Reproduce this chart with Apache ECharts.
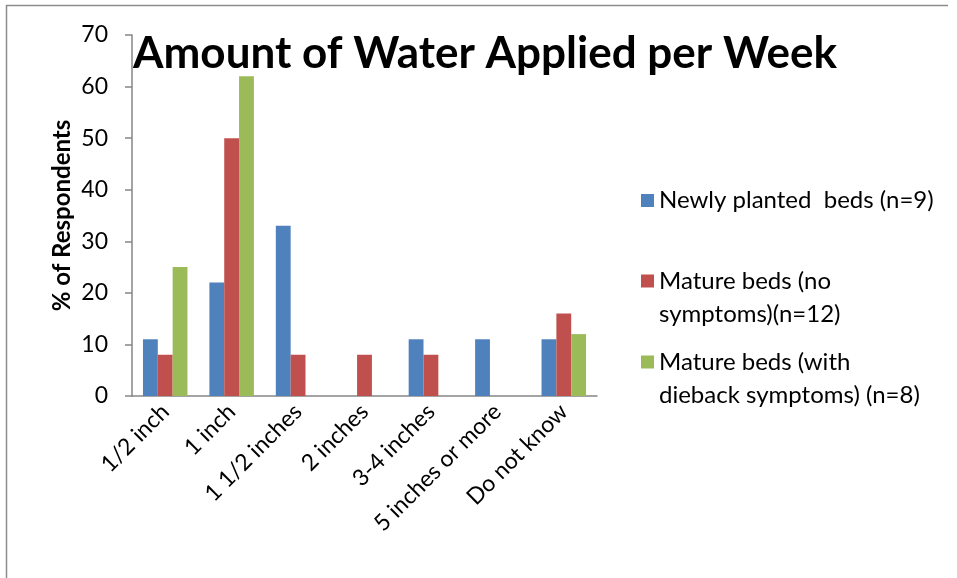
<!DOCTYPE html>
<html>
<head>
<meta charset="utf-8">
<script src="https://cdn.jsdelivr.net/npm/echarts@6/dist/echarts.min.js"></script>
<style>
  html, body { margin: 0; padding: 0; background: #fff; }
  #chart { width: 957px; height: 578px; }
</style>
</head>
<body>
<div id="chart"></div>
<script>
var categories = ["1/2 inch", "1 inch", "1 1/2 inches", "2 inches", "3-4 inches", "5 inches or more", "Do not know"]
var newlyPlanted = [11, 22, 33, 0, 11, 11, 11]
var matureNoSymptoms = [8, 50, 8, 8, 8, 0, 16]
var matureDieback = [25, 62, 0, 0, 0, 0, 12]
var seriesNames = ["Newly planted  beds (n=9)", "Mature beds (no\nsymptoms)(n=12)", "Mature beds (with\ndieback symptoms) (n=8)"]
var colors = ["#4F81BD", "#C0504D", "#9BBB59"]

var chartDom = document.getElementById("chart")
var myChart = echarts.init(chartDom)
var option

var font = "Lato"
var axisGray = "#868686"

// square icon at the top of a taller box so it lines up with the first text line
var topIcon = "path://M0,0h13v13h-13z M0,47"

function legendFor(i, top, icon, h) {
    return {
        data: [{ name: seriesNames[i], icon: icon }],
        orient: "vertical",
        left: 636,
        top: top,
        itemWidth: 13,
        itemHeight: h,
        itemGap: 0,
        selectedMode: false,
        textStyle: { fontFamily: font, fontSize: 24, color: "#000", lineHeight: 33 }
    }
}

option = {
    animation: false,
    backgroundColor: "#fff",
    color: colors,
    title: {
        text: "Amount of Water Applied per Week",
        left: 128,
        top: 27,
        textStyle: { fontFamily: font, fontSize: 44, fontWeight: "bold", color: "#000" }
    },
    legend: [
        legendFor(0, 179, "rect", 13),
        legendFor(1, 260, topIcon, 47),
        legendFor(2, 341, topIcon, 47)
    ],
    grid: {
        left: 132,
        right: 360,
        top: 35,
        bottom: 182
    },
    xAxis: {
        type: "category",
        data: categories,
        axisLine: { lineStyle: { color: axisGray, width: 1.5 } },
        axisTick: { length: 7, lineStyle: { color: axisGray, width: 1.5 } },
        axisLabel: {
            rotate: 45,
            margin: 12,
            fontFamily: font,
            fontSize: 23,
            color: "#000"
        }
    },
    yAxis: {
        type: "value",
        min: 0,
        max: 70,
        interval: 10,
        name: "% of Respondents",
        nameLocation: "middle",
        nameGap: 58,
        nameTextStyle: { fontFamily: font, fontSize: 24, fontWeight: "bold", color: "#000" },
        axisLine: { show: true, lineStyle: { color: axisGray, width: 1.5 } },
        axisTick: { show: true, length: 7, lineStyle: { color: axisGray, width: 1.5 } },
        splitLine: { show: false },
        axisLabel: { margin: 24, fontFamily: font, fontSize: 23, color: "#000" }
    },
    graphic: [
        { type: "line", shape: { x1: 6, y1: 5.5, x2: 948, y2: 5.5 }, style: { stroke: "#8c8c8c", lineWidth: 1.5 } },
        { type: "line", shape: { x1: 6.5, y1: 5, x2: 6.5, y2: 578 }, style: { stroke: "#8c8c8c", lineWidth: 1.5 } }
    ],
    series: [
        { name: seriesNames[0], type: "bar", data: newlyPlanted, barGap: "0%", barCategoryGap: "33%" },
        { name: seriesNames[1], type: "bar", data: matureNoSymptoms, barGap: "0%", barCategoryGap: "33%" },
        { name: seriesNames[2], type: "bar", data: matureDieback, barGap: "0%", barCategoryGap: "33%" }
    ]
}

option && myChart.setOption(option)
</script>
</body>
</html>
